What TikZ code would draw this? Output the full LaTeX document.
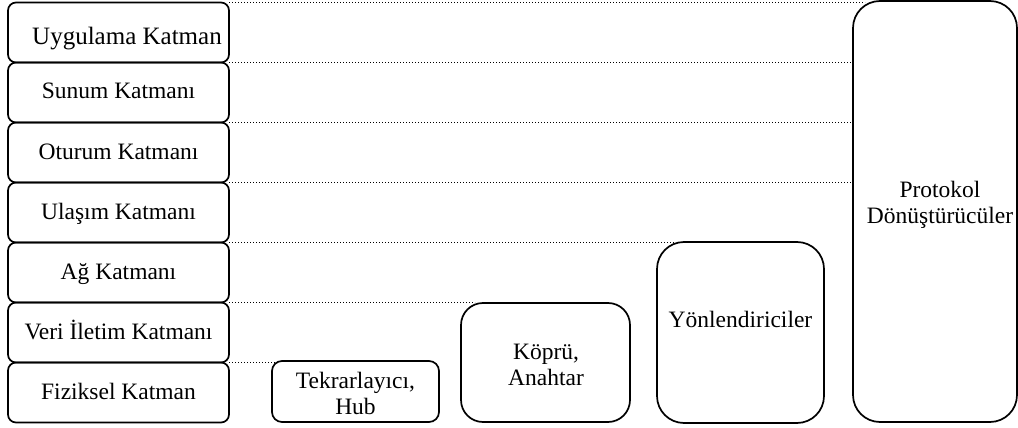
\documentclass[tikz,border=0pt]{standalone}
\usepackage{fontspec}
\setmainfont{Liberation Serif}
\begin{document}
\begin{tikzpicture}[x=1pt,y=-1pt]
\tikzset{
  layer/.style={draw, line width=1.7pt, rounded corners=8pt,
    minimum width=221pt, minimum height=60pt, inner sep=0pt, outer sep=0pt},
  devbox/.style={draw, line width=1.7pt, inner sep=0pt, outer sep=0pt},
  lbl/.style={anchor=base, inner sep=0pt, outer sep=0pt,
    font=\fontsize{23.5}{26}\selectfont},
  guide/.style={line width=1.1pt, dash pattern=on 1pt off 2pt},
}
\useasboundingbox (0,0) rectangle (1018,428);

% OSI layer stack
\node[layer] (uyg) at (118.5,32.5)  {};
\node[layer] (sun) at (118.5,92.5)  {};
\node[layer] (otu) at (118.5,152.5) {};
\node[layer] (ula) at (118.5,212.5) {};
\node[layer] (ag)  at (118.5,272.5) {};
\node[layer] (ver) at (118.5,332.5) {};
\node[layer] (fiz) at (118.5,392.5) {};

\node[lbl, font=\fontsize{25}{28}\selectfont] (t-uyg) at (127,45) {Uygulama Katman};
\node[lbl] (t-sun) at ([yshift=-6.5pt]sun.center) {Sunum Katmanı};
\node[lbl] (t-otu) at ([yshift=-6.5pt]otu.center) {Oturum Katmanı};
\node[lbl] (t-ula) at ([yshift=-6.5pt]ula.center) {Ulaşım Katmanı};
\node[lbl] (t-ag)  at ([yshift=-6.5pt]ag.center)  {Ağ Katmanı};
\node[lbl] (t-ver) at ([yshift=-6.5pt]ver.center) {Veri İletim Katmanı};
\node[lbl] (t-fiz) at ([yshift=-6.5pt]fiz.center) {Fiziksel Katman};

% network devices
\node[devbox, rounded corners=10pt, minimum width=167pt, minimum height=61pt]
  (hub) at (355.5,391.5) {};
\node[devbox, rounded corners=22pt, minimum width=169pt, minimum height=119pt]
  (kopru) at (545.5,362.5) {};
\node[devbox, rounded corners=27pt, minimum width=167pt, minimum height=181pt]
  (yon) at (740.5,332.5) {};
\node[devbox, rounded corners=27pt, minimum width=164pt, minimum height=421pt]
  (proto) at (935,211.5) {};

\node[lbl] (t-hub) at (355.5,414.5)
  {\begin{tabular}[b]{@{}c@{}}Tekrarlayıcı,\\Hub\end{tabular}};
\node[lbl] (t-kopru) at (546,385)
  {\begin{tabular}[b]{@{}c@{}}Köprü,\\Anahtar\end{tabular}};
\node[lbl] (t-yon) at (740.5,327) {Yönlendiriciler};
\node[lbl] (t-proto) at (940,223)
  {\begin{tabular}[b]{@{}c@{}}Protokol\\Dönüştürücüler\end{tabular}};

% dotted guides from layer boundaries to the devices
\draw[guide] (uyg.north east) -- ([xshift=12pt]uyg.north east -| proto.west);
\draw[guide] (sun.north east) -- (sun.north east -| proto.west);
\draw[guide] (otu.north east) -- (otu.north east -| proto.west);
\draw[guide] (ula.north east) -- (ula.north east -| proto.west);
\draw[guide] (ag.north east)  -- ([xshift=18pt]ag.north east -| yon.west);
\draw[guide] (ver.north east) -- ([xshift=14pt]ver.north east -| kopru.west);
\draw[guide] (fiz.north east) -- ([xshift=4pt]fiz.north east -| hub.west);
\end{tikzpicture}
\end{document}
